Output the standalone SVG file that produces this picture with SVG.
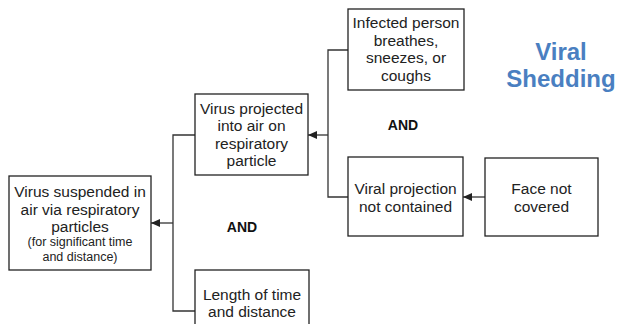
<svg xmlns="http://www.w3.org/2000/svg" width="618" height="324" viewBox="0 0 618 324">
<defs>
<marker id="arr" markerWidth="10" markerHeight="10" refX="9" refY="5" orient="auto" markerUnits="userSpaceOnUse">
<path d="M0,1 L9,5 L0,9 Z" fill="#222"/>
</marker>
<style>
.box{fill:#fff;stroke:#222;stroke-width:1.3}
.t{font-family:"Liberation Sans",Arial,sans-serif;font-size:15.5px;fill:#222;text-anchor:middle}
.s{font-size:12.5px}
.and{font-family:"Liberation Sans",Arial,sans-serif;font-size:14px;font-weight:bold;fill:#111;text-anchor:middle}
.c{fill:none;stroke:#333;stroke-width:1.3}
.title{font-family:"Liberation Sans",Arial,sans-serif;font-size:24px;font-weight:bold;fill:#4a7fc1;text-anchor:middle}
</style>
</defs>
<rect width="618" height="324" fill="#fff"/>
<g id="connectors">
<path class="c" d="M195,135 H173 V311 H195"/>
<path class="c" d="M173,223 H151" marker-end="url(#arr)"/>
<path class="c" d="M348,50 H328 V197 H348"/>
<path class="c" d="M328,135 H308" marker-end="url(#arr)"/>
<path class="c" d="M485,197 H463" marker-end="url(#arr)"/>
</g>
<g id="n1">
<rect class="box" x="9" y="176" width="142" height="94"/>
<text class="t" x="80" y="197">Virus suspended in</text>
<text class="t" x="80" y="214.5">air via respiratory</text>
<text class="t" x="80" y="232">particles</text>
<text class="t s" x="80" y="246">(for significant time</text>
<text class="t s" x="80" y="260.5">and distance)</text>
</g>
<g id="n2">
<rect class="box" x="195" y="94" width="113" height="81"/>
<text class="t" x="251.5" y="113.5">Virus projected</text>
<text class="t" x="251.5" y="131">into air on</text>
<text class="t" x="251.5" y="148.5">respiratory</text>
<text class="t" x="251.5" y="166">particle</text>
</g>
<g id="n3">
<rect class="box" x="195" y="270" width="114" height="70"/>
<text class="t" x="252" y="300">Length of time</text>
<text class="t" x="252" y="317">and distance</text>
</g>
<g id="n4">
<rect class="box" x="348" y="9" width="116" height="81"/>
<text class="t" x="406" y="28">Infected person</text>
<text class="t" x="406" y="45.5">breathes,</text>
<text class="t" x="406" y="63">sneezes, or</text>
<text class="t" x="406" y="80.5">coughs</text>
</g>
<g id="n5">
<rect class="box" x="348" y="157" width="115" height="79"/>
<text class="t" x="405.5" y="194">Viral projection</text>
<text class="t" x="405.5" y="211.5">not contained</text>
</g>
<g id="n6">
<rect class="box" x="485" y="158" width="113" height="78"/>
<text class="t" x="541.5" y="194">Face not</text>
<text class="t" x="541.5" y="211.5">covered</text>
</g>
<text class="and" x="403" y="130">AND</text>
<text class="and" x="242" y="231.5">AND</text>
<text class="title" x="561" y="59.5">Viral</text>
<text class="title" x="561" y="87">Shedding</text>
</svg>
